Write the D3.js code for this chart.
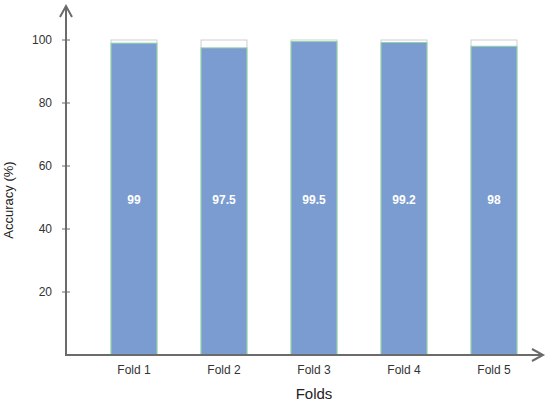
<!DOCTYPE html>
<html>
<head>
<meta charset="utf-8">
<script src="https://cdn.jsdelivr.net/npm/d3@7"></script>
<style>
  body { margin: 0; background: #fff; }
  svg { display: block; font-family: 'Liberation Sans', Arial, sans-serif; }
</style>
</head>
<body>
<svg id="chart" width="550" height="404"></svg>
<script>
// chart data
const folds = ['Fold 1', 'Fold 2', 'Fold 3', 'Fold 4', 'Fold 5'];
const accuracy = [99, 97.5, 99.5, 99.2, 98];
const yTicks = [20, 40, 60, 80, 100];

const svg = d3.select('#chart');
const axisX = 66, axisY = 355;

let x = d3.scaleBand().domain(folds).range([89, 539]).paddingInner(0.49).paddingOuter(0.245);
let y = d3.scaleLinear().domain([0, 100]).range([axisY, 40]);

// 100% outline behind each bar
svg.selectAll('rect.full')
  .data(folds)
  .join('rect')
  .attr('class', 'full')
  .attr('x', d => x(d))
  .attr('y', y(100))
  .attr('width', x.bandwidth())
  .attr('height', y(0) - y(100))
  .attr('fill', '#fff')
  .attr('stroke', '#cfcfcf')
  .attr('stroke-width', 1);

svg.selectAll('rect.bar')
  .data(accuracy)
  .join('rect')
  .attr('class', 'bar')
  .attr('x', (d, i) => x(folds[i]))
  .attr('y', d => y(d))
  .attr('width', x.bandwidth())
  .attr('height', d => y(0) - y(d))
  .attr('fill', '#7b9cd0')
  .attr('stroke', '#8fd3a6')
  .attr('stroke-width', 1);

svg.selectAll('text.val')
  .data(accuracy)
  .join('text')
  .attr('class', 'val')
  .attr('x', (d, i) => x(folds[i]) + x.bandwidth() / 2)
  .attr('y', 204)
  .attr('text-anchor', 'middle')
  .attr('fill', '#fff')
  .attr('font-size', 12)
  .attr('font-weight', 'bold')
  .text(d => d);

// axes with arrows
const axisColor = '#6b6b6b';
svg.append('line')
  .attr('x1', axisX).attr('y1', axisY + 1)
  .attr('x2', axisX).attr('y2', 6)
  .attr('stroke', axisColor).attr('stroke-width', 2);
svg.append('path')
  .attr('d', `M${axisX - 6},17 L${axisX},6 L${axisX + 6},17`)
  .attr('fill', 'none').attr('stroke', axisColor).attr('stroke-width', 2);

svg.append('line')
  .attr('x1', axisX - 1).attr('y1', axisY)
  .attr('x2', 543).attr('y2', axisY)
  .attr('stroke', axisColor).attr('stroke-width', 2);
svg.append('path')
  .attr('d', `M532,${axisY - 6} L543,${axisY} L532,${axisY + 6}`)
  .attr('fill', 'none').attr('stroke', axisColor).attr('stroke-width', 2);

// y ticks
svg.selectAll('line.tick')
  .data(yTicks)
  .join('line')
  .attr('class', 'tick')
  .attr('x1', axisX - 4).attr('x2', axisX + 4)
  .attr('y1', d => y(d)).attr('y2', d => y(d))
  .attr('stroke', axisColor).attr('stroke-width', 1);

svg.selectAll('text.ytick')
  .data(yTicks)
  .join('text')
  .attr('class', 'ytick')
  .attr('x', 52)
  .attr('y', d => y(d) + 4)
  .attr('text-anchor', 'end')
  .attr('font-size', 12)
  .attr('fill', '#333')
  .text(d => d);

svg.selectAll('text.xtick')
  .data(folds)
  .join('text')
  .attr('class', 'xtick')
  .attr('x', d => x(d) + x.bandwidth() / 2)
  .attr('y', 374)
  .attr('text-anchor', 'middle')
  .attr('font-size', 12)
  .attr('fill', '#333')
  .text(d => d);

svg.append('text')
  .attr('x', 314)
  .attr('y', 399)
  .attr('text-anchor', 'middle')
  .attr('font-size', 15)
  .attr('fill', '#222')
  .text('Folds');

svg.append('text')
  .attr('transform', 'translate(13,200) rotate(-90)')
  .attr('text-anchor', 'middle')
  .attr('font-size', 13)
  .attr('fill', '#222')
  .text('Accuracy (%)');
</script>
</body>
</html>
